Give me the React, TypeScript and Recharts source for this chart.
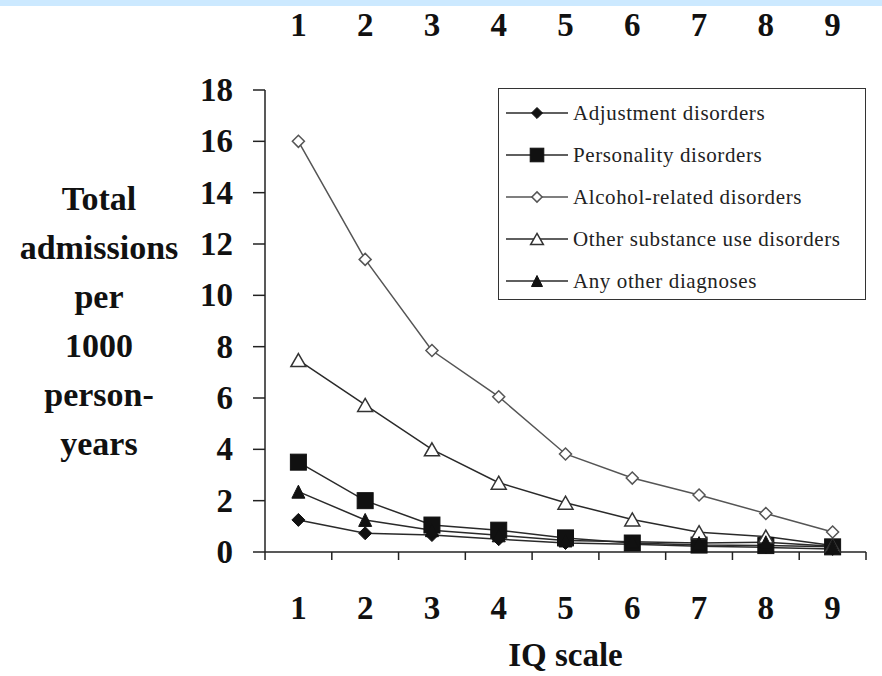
import React from 'react';
import { LineChart, Line, XAxis, YAxis, Legend } from 'recharts';

const iqScale = [1, 2, 3, 4, 5, 6, 7, 8, 9];
const yTicks = [0, 2, 4, 6, 8, 10, 12, 14, 16, 18];
const boundaryTicks = [0.5, 1.5, 2.5, 3.5, 4.5, 5.5, 6.5, 7.5, 8.5, 9.5];

const adjustment = [1.25, 0.73, 0.66, 0.5, 0.35, 0.3, 0.22, 0.18, 0.12];
const personality = [3.5, 2.0, 1.05, 0.85, 0.55, 0.35, 0.27, 0.25, 0.2];
const alcohol = [16.0, 11.4, 7.85, 6.05, 3.82, 2.88, 2.22, 1.5, 0.78];
const otherSubstance = [7.48, 5.73, 4.0, 2.7, 1.92, 1.27, 0.77, 0.6, 0.25];
const anyOther = [2.35, 1.25, 0.85, 0.65, 0.45, 0.4, 0.35, 0.38, 0.22];

const yLabelLines = ['Total', 'admissions', 'per', '1000', 'person-', 'years'];
const xTitle = 'IQ scale';

const data = iqScale.map((v, i) => ({
  iq: v,
  adjustment: adjustment[i],
  personality: personality[i],
  alcohol: alcohol[i],
  otherSubstance: otherSubstance[i],
  anyOther: anyOther[i],
}));

const SERIF = "'Liberation Serif', 'Times New Roman', serif";

type ShapeKind = 'diamond' | 'square' | 'openDiamond' | 'openTriangle' | 'triangle';

function Marker({ kind, cx, cy, scale = 1 }: { kind: ShapeKind; cx: number; cy: number; scale?: number }) {
  if (kind === 'diamond') {
    const r = 6.5 * scale;
    return <polygon points={`${cx},${cy - r} ${cx + r},${cy} ${cx},${cy + r} ${cx - r},${cy}`} fill="#111" stroke="#111" strokeWidth={1} />;
  }
  if (kind === 'square') {
    const h = 8 * scale;
    return <rect x={cx - h} y={cy - h} width={2 * h} height={2 * h} fill="#111" stroke="#111" strokeWidth={1} />;
  }
  if (kind === 'openDiamond') {
    const r = 6 * scale;
    return <polygon points={`${cx},${cy - r} ${cx + r},${cy} ${cx},${cy + r} ${cx - r},${cy}`} fill="#fff" stroke="#555" strokeWidth={1.5} />;
  }
  if (kind === 'openTriangle') {
    const w = 7.5 * scale;
    const h = 6.5 * scale;
    return <polygon points={`${cx},${cy - h} ${cx + w},${cy + h} ${cx - w},${cy + h}`} fill="#fff" stroke="#333" strokeWidth={1.5} />;
  }
  const w = 6.5 * scale;
  const h = 6.5 * scale;
  return <polygon points={`${cx},${cy - h} ${cx + w},${cy + h} ${cx - w},${cy + h}`} fill="#111" stroke="#111" strokeWidth={1} />;
}

const series: { key: string; name: string; kind: ShapeKind; color: string }[] = [
  { key: 'adjustment', name: 'Adjustment disorders', kind: 'diamond', color: '#2a2a2a' },
  { key: 'personality', name: 'Personality disorders', kind: 'square', color: '#2a2a2a' },
  { key: 'alcohol', name: 'Alcohol-related disorders', kind: 'openDiamond', color: '#555' },
  { key: 'otherSubstance', name: 'Other substance use disorders', kind: 'openTriangle', color: '#2a2a2a' },
  { key: 'anyOther', name: 'Any other diagnoses', kind: 'triangle', color: '#2a2a2a' },
];

const LegendBox = () => (
  <div
    style={{
      border: '1.5px solid #333',
      width: 368,
      height: 212,
      boxSizing: 'border-box',
      padding: '3px 0 0 6px',
      background: '#fff',
      fontFamily: SERIF,
    }}
  >
    {series.map((s) => (
      <div key={s.key} style={{ display: 'flex', alignItems: 'center', height: 42 }}>
        <svg width={66} height={20} style={{ display: 'block' }}>
          <line x1={1} y1={10} x2={63} y2={10} stroke={s.color} strokeWidth={1.5} />
          <Marker kind={s.kind} cx={32} cy={10} scale={0.85} />
        </svg>
        <span
          style={{
            fontFamily: SERIF,
            fontSize: 21,
            color: '#222',
            marginLeft: 2,
            letterSpacing: 0.6,
            whiteSpace: 'nowrap',
          }}
        >
          {s.name}
        </span>
      </div>
    ))}
  </div>
);

const EmptyTick = () => <g />;

const BottomTick = (props: any) => (
  <text x={props.x} y={608} textAnchor="middle" dominantBaseline="central" fontFamily={SERIF} fontWeight="bold" fontSize={33} fill="#111">
    {props.payload.value}
  </text>
);

const TopTick = (props: any) => (
  <text x={props.x} y={25} textAnchor="middle" dominantBaseline="central" fontFamily={SERIF} fontWeight="bold" fontSize={33} fill="#111">
    {props.payload.value}
  </text>
);

const YTick = (props: any) => (
  <text x={props.x} y={props.y} textAnchor="end" dominantBaseline="central" fontFamily={SERIF} fontWeight="bold" fontSize={33} fill="#111">
    {props.payload.value}
  </text>
);

const YLabel = (props: any) => {
  const vb = props.viewBox || { x: 0, y: 0, width: 0, height: 0 };
  const cy = vb.y + vb.height / 2;
  return (
    <g>
      {yLabelLines.map((t, i) => (
        <text key={t} x={99} y={cy + (i - 2.5) * 49} textAnchor="middle" dominantBaseline="central" fontFamily={SERIF} fontWeight="bold" fontSize={34} fill="#111">
          {t}
        </text>
      ))}
    </g>
  );
};

const XLabel = (props: any) => {
  const vb = props.viewBox || { x: 0, y: 0, width: 0, height: 0 };
  return (
    <text x={vb.x + vb.width / 2} y={655} textAnchor="middle" dominantBaseline="central" fontFamily={SERIF} fontWeight="bold" fontSize={33} fill="#111">
      {xTitle}
    </text>
  );
};

export default function App() {
  return (
    <div style={{ position: 'absolute', left: 0, top: 0, width: 882, height: 676, background: '#fff', overflow: 'hidden' }}>
      <div style={{ position: 'absolute', left: 0, top: 0, width: 882, height: 6, background: '#cce9ff' }} />
      <LineChart width={882} height={676} data={data} margin={{ top: 30, right: 16, bottom: 14, left: 205 }}>
        <XAxis
          xAxisId="top"
          orientation="top"
          type="number"
          dataKey="iq"
          domain={[0.5, 9.5]}
          ticks={iqScale}
          axisLine={false}
          tickLine={false}
          height={60}
          tick={<TopTick />}
          interval={0}
        />
        <XAxis
          type="number"
          dataKey="iq"
          domain={[0.5, 9.5]}
          ticks={boundaryTicks}
          height={20}
          interval={0}
          tick={<EmptyTick />}
          tickSize={8}
          axisLine={{ stroke: '#222', strokeWidth: 1.5 }}
          tickLine={{ stroke: '#222', strokeWidth: 1.5 }}
        />
        <XAxis
          xAxisId="lab"
          type="number"
          dataKey="iq"
          domain={[0.5, 9.5]}
          ticks={iqScale}
          interval={0}
          height={90}
          axisLine={false}
          tickLine={false}
          tick={<BottomTick />}
          label={<XLabel />}
        />
        <YAxis
          domain={[0, 18]}
          ticks={yTicks}
          interval={0}
          width={60}
          tickSize={12}
          tickMargin={20}
          tick={<YTick />}
          axisLine={{ stroke: '#222', strokeWidth: 1.5 }}
          tickLine={{ stroke: '#222', strokeWidth: 1.5 }}
          label={<YLabel />}
        />
        <Legend
          layout="vertical"
          align="center"
          verticalAlign="middle"
          content={<LegendBox />}
          wrapperStyle={{ position: 'absolute', left: 498, top: 88, width: 368, height: 212 }}
        />
        {series.map((s) => (
          <Line
            key={s.key}
            type="linear"
            dataKey={s.key}
            name={s.name}
            stroke={s.color}
            strokeWidth={1.5}
            isAnimationActive={false}
            dot={(p: any) => <Marker key={`${s.key}-${p.index}`} kind={s.kind} cx={p.cx} cy={p.cy} />}
            activeDot={false}
          />
        ))}
      </LineChart>
    </div>
  );
}
